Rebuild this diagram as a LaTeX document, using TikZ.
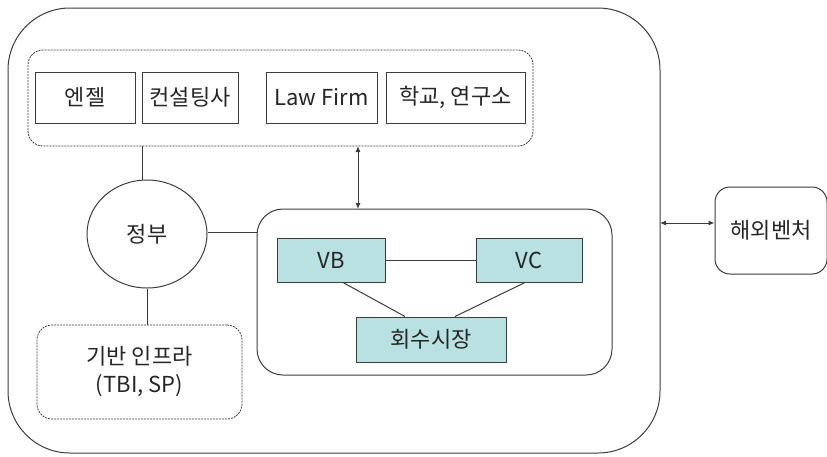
\documentclass[tikz,border=0pt]{standalone}
\usepackage{fontspec}
\setmainfont{Noto Sans CJK KR}
\usetikzlibrary{arrows.meta,shapes.geometric}
\definecolor{boxfill}{RGB}{185,225,226}
\definecolor{edge}{RGB}{60,60,60}
\tikzset{
  every node/.style={font=\fontsize{22}{26}\selectfont, text=black!85},
  line/.style={draw=edge, line width=1pt},
  outerbox/.style={line, rounded corners=62pt},
  groupbox/.style={draw=edge, line width=0.8pt, dash pattern=on 2pt off 1pt, rounded corners=15pt},
  member/.style={line, rectangle, inner sep=0pt},
  market/.style={line, rectangle, fill=boxfill, inner sep=0pt},
  link/.style={draw=edge, line width=1pt},
  twoway/.style={link, {Latex[length=6pt,width=5pt]}-{Latex[length=6pt,width=5pt]}},
}
\begin{document}
\begin{tikzpicture}[x=1pt,y=-1pt]
\useasboundingbox (0,0) rectangle (827,456);

% outer frame
\draw[outerbox] (8,8) rectangle (660,453);

% support organisations
\draw[groupbox] (28,50) rectangle (533,146);
\coordinate (grpL) at (142,146);
\coordinate (grpR) at (358,146);
\node[member, minimum width=100pt, minimum height=51pt] (angel) at (85,97.5) {엔젤};
\node[member, minimum width=96pt, minimum height=51pt] (consult) at (190,97.5) {컨설팅사};
\node[member, minimum width=111pt, minimum height=51pt] (law) at (321.5,97.5) {Law Firm};
\node[member, minimum width=139pt, minimum height=51pt] (school) at (455.5,97.5) {학교, 연구소};

% government
\node[line, ellipse, minimum width=120pt, minimum height=108pt] (gov) at (147,234) {정부};

% infrastructure
\node[groupbox, minimum width=205pt, minimum height=94pt, align=center] (infra) at (139.5,372)
  {기반 인프라\\[2pt](TBI, SP)};

% venture market
\draw[line, rounded corners=26pt] (257,209) rectangle (612,375);
\coordinate (mktT) at (358,209);
\coordinate (mktL) at (257,232);
\node[market, minimum width=108pt, minimum height=44pt] (vb) at (331,260) {VB};
\node[market, minimum width=106pt, minimum height=44pt] (vc) at (529,260) {VC};
\node[market, minimum width=150pt, minimum height=45pt] (exit) at (431,339.5) {회수시장};

% overseas ventures
\node[line, rounded corners=15pt, minimum width=112pt, minimum height=87pt] (abroad) at (771,230.5) {해외벤처};
\coordinate (frameR) at (660,223);

% connectors
\draw[link] (grpL) -- (gov.north -| grpL);
\draw[link] (gov.south) -- (infra.north -| gov.south);
\draw[link] (gov.east |- mktL) -- (mktL);
\draw[twoway] (grpR) -- (mktT);
\draw[link] (vb) -- (vc);
\draw[link] ([xshift=12pt]vb.south) -- ([xshift=-26pt]exit.north);
\draw[link] ([xshift=-4pt]vc.south) -- ([xshift=24pt]exit.north);
\draw[twoway] (frameR) -- (abroad.west |- frameR);
\end{tikzpicture}
\end{document}
